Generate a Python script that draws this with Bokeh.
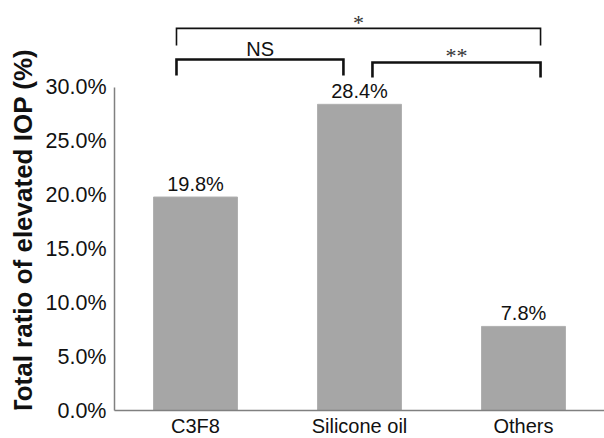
import math
from bokeh.plotting import figure
from bokeh.layouts import row
from bokeh.models import FixedTicker, Range1d, ColumnDataSource
from bokeh.core.properties import value
from bokeh.embed import file_html
from bokeh.resources import INLINE

# ---- data ----
categories = ["C3F8", "Silicone oil", "Others"]
ratios = [19.8, 28.4, 7.8]
ratio_labels = ["19.8%", "28.4%", "7.8%"]
y_ticks = [0, 5, 10, 15, 20, 25, 30]
y_tick_labels = ["0.0%", "5.0%", "10.0%", "15.0%", "20.0%", "25.0%", "30.0%"]
# significance comparisons: (first category index, second category index, mark)
comparisons = [(0, 2, "*"), (0, 1, "NS"), (1, 2, "**")]
y_title = "Total ratio of elevated IOP (%)"

FONT = "Liberation Sans"
x_pos = list(range(len(categories)))

# ---- narrow strip holding the rotated y-axis title ----
t = figure(width=40, height=438, output_backend="svg", toolbar_location=None,
           x_range=Range1d(0, 40), y_range=Range1d(0, 438),
           min_border=0, outline_line_color=None)
t.axis.visible = False
t.grid.visible = False
t.text(x=[22], y=[190], text=[y_title], angle=math.pi / 2, text_align="center",
       text_baseline="middle", text_font=value(FONT), text_font_style="bold",
       text_font_size="26px", text_color="#111111")

# ---- main chart ----
p = figure(frame_width=490, frame_height=410, output_backend="svg", toolbar_location=None,
           x_range=Range1d(-0.494, 2.494), y_range=Range1d(0, 38.03),
           min_border_left=74, min_border_right=0, min_border_top=0,
           min_border_bottom=28)
p.outline_line_color = None
p.xgrid.grid_line_color = None
p.ygrid.grid_line_color = None
p.background_fill_color = "white"
p.border_fill_color = "white"

src = ColumnDataSource(dict(x=x_pos, top=ratios, lab=ratio_labels))
p.vbar(x="x", top="top", width=0.512, bottom=0, source=src,
       fill_color="#a6a6a6", line_color="#b0b0b0", line_width=1)
p.text(x="x", y="top", text="lab", source=src, text_align="center",
       text_baseline="middle", y_offset=-13, text_font=value(FONT),
       text_font_size="20px", text_color="#111111")

# y axis
ya = p.yaxis[0]
ya.ticker = FixedTicker(ticks=y_ticks)
ya.major_label_overrides = {t_: l for t_, l in zip(y_ticks, y_tick_labels)}
ya.bounds = (0, 30)
ya.axis_line_color = "#808080"
ya.axis_line_width = 1.5
ya.major_tick_line_color = None
ya.minor_tick_line_color = None
ya.major_tick_out = 0
ya.minor_tick_out = 0
ya.major_tick_in = 0
ya.minor_tick_in = 0
ya.major_label_standoff = 8
ya.major_label_text_font = FONT
ya.major_label_text_font_size = "21.5px"
ya.major_label_text_color = "#111111"

# x axis
xa = p.xaxis[0]
xa.ticker = FixedTicker(ticks=x_pos)
xa.major_label_overrides = {i: c for i, c in zip(x_pos, categories)}
xa.axis_line_color = "#808080"
xa.axis_line_width = 1.5
xa.major_tick_line_color = None
xa.minor_tick_line_color = None
xa.major_tick_out = 0
xa.minor_tick_out = 0
xa.major_tick_in = 0
xa.minor_tick_in = 0
xa.major_label_standoff = 4
xa.major_label_text_font = FONT
xa.major_label_text_font_size = "20px"
xa.major_label_text_color = "#111111"

# significance brackets
end_offset = {(0, 2): (-0.116, 0.104), (0, 1): (-0.116, -0.098), (1, 2): (0.079, 0.104)}
levels = {(0, 2): (35.44, 33.86, 1.6), (0, 1): (32.56, 31.08, 2.6), (1, 2): (32.28, 30.89, 2.6)}
mark_offset = {"*": -6, "NS": -10, "**": -7}
for a, b, mark in comparisons:
    oa, ob = end_offset[(a, b)]
    yh, yl, lw = levels[(a, b)]
    xl, xr = a + oa, b + ob
    p.line(x=[xl, xl, xr, xr], y=[yl, yh, yh, yl], line_color="#111111",
           line_width=lw, line_join="miter")
    if mark == "NS":
        p.text(x=[xl + 0.51], y=[yh], text=[mark], text_align="center",
               text_baseline="alphabetic", y_offset=mark_offset[mark],
               text_font=value(FONT), text_font_size="20px", text_color="#111111")
    else:
        p.text(x=[(xl + xr) / 2], y=[yh], text=[mark], text_align="center",
               text_baseline="middle", y_offset=mark_offset[mark],
               text_font=value("Liberation Serif"), text_font_size="22px",
               text_color="#333333")

open("out.html", "w").write(file_html(row(t, p), INLINE))
